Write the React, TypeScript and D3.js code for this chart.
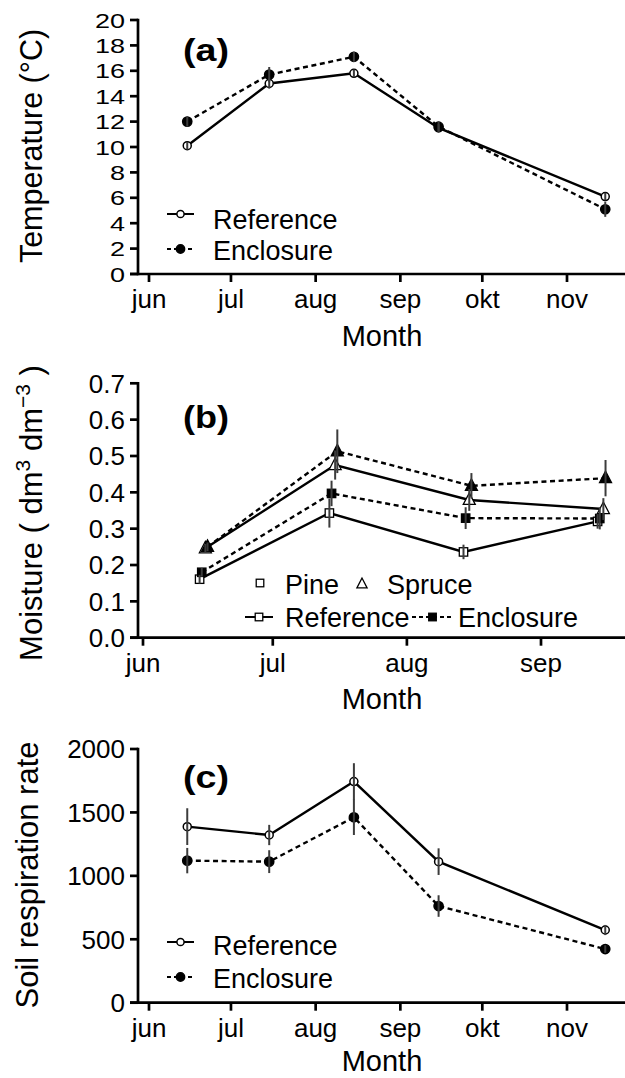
import React from 'react';
import * as d3 from 'd3';

// ---------- data ----------
const monthsAC = ['jun', 'jul', 'aug', 'sep', 'okt', 'nov'];
const monthsB = ['jun', 'jul', 'aug', 'sep'];
const datesAC = ['2000-06-15', '2000-07-15', '2000-08-15', '2000-09-15', '2000-11-15'];
const datesB = ['2000-06-15', '2000-07-15', '2000-08-15', '2000-09-15'];

const tempTicks = [0, 2, 4, 6, 8, 10, 12, 14, 16, 18, 20];
const tempReference = [10.1, 15.0, 15.8, 11.5, 6.1];
const tempReferenceErr = [0.3, 0.4, 0.3, 0.3, 0.3];
const tempEnclosure = [12.0, 15.7, 17.1, 11.6, 5.1];
const tempEnclosureErr = [0.4, 0.6, 0.4, 0.4, 0.6];

const moistTicks = [0, 0.1, 0.2, 0.3, 0.4, 0.5, 0.6, 0.7];
const moistPineRef = [0.161, 0.343, 0.236, 0.32];
const moistPineRefErr = [0.012, 0.04, 0.02, 0.02];
const moistPineEnc = [0.18, 0.397, 0.329, 0.328];
const moistPineEncErr = [0.012, 0.035, 0.03, 0.03];
const moistSpruceRef = [0.246, 0.475, 0.379, 0.354];
const moistSpruceRefErr = [0.012, 0.04, 0.03, 0.03];
const moistSpruceEnc = [0.25, 0.513, 0.418, 0.439];
const moistSpruceEncErr = [0.012, 0.06, 0.035, 0.05];

const respTicks = [0, 500, 1000, 1500, 2000];
const respReference = [1388, 1322, 1743, 1112, 573];
const respReferenceErr = [145, 80, 145, 105, 40];
const respEnclosure = [1120, 1112, 1462, 762, 423];
const respEnclosureErr = [100, 90, 140, 85, 30];

// ---------- styling ----------
const FONT = '"Liberation Sans", Arial, Helvetica, sans-serif';
const AXW = 2.7;
const LW = 2.4;
const DASH = '5,3.6';
const ERR = '#3c3c3c';
const parse = d3.timeParse('%Y-%m-%d');

type Shape = 'circle' | 'square' | 'triangle';

function Marker({ x, y, shape, filled, s = 1 }: { x: number; y: number; shape: Shape; filled: boolean; s?: number }) {
  const fill = filled ? '#000' : '#fff';
  if (shape === 'circle') {
    return <circle cx={x} cy={y} r={filled ? 4.6 * s : 4 * s} fill={fill} stroke="#000" strokeWidth={1.5} />;
  }
  if (shape === 'square') {
    const h = 4.2 * s;
    return <rect x={x - h} y={y - h} width={2 * h} height={2 * h} fill={fill} stroke="#000" strokeWidth={1.3} />;
  }
  const p = d3.path();
  p.moveTo(x, y - 7 * s);
  p.lineTo(x - 6 * s, y + 4.5 * s);
  p.lineTo(x + 6 * s, y + 4.5 * s);
  p.closePath();
  return <path d={p.toString()} fill={fill} stroke="#000" strokeWidth={1.3} />;
}

type Series = {
  values: number[];
  errs: number[];
  dashed: boolean;
  shape: Shape;
  filled: boolean;
  dodge: number; // days
};

function Panel({
  label, labelY, yTop, yBase, yDomainMax, yTicks, tickFmt, yTickScale, tickFs,
  x0, x1, months, dates, series, yTitle, yTitleX, yTitleCenter, yTitleFs, monthY,
}: any) {
  const d0 = parse('2000-06-01')!;
  const d1 = d3.timeMonth.offset(d0, months.length - 1);
  const x = d3.scaleTime().domain([d0, d1]).range([x0, x1]);
  const y = d3.scaleLinear().domain([0, yDomainMax]).range([yBase, yTop]);
  const tickDates = d3.timeMonth.range(d0, d3.timeMonth.offset(d0, months.length));
  const ds = dates.map((s: string) => parse(s)!);
  const xs = (i: number, dodge: number) => x(d3.timeHour.offset(ds[i], Math.round(dodge * 24)));

  return (
    <g>
      {/* y axis */}
      <line x1={138} x2={138} y1={yTop - AXW / 2} y2={yBase + AXW / 2} stroke="#000" strokeWidth={AXW} />
      {yTicks.map((t: number) => (
        <g key={t}>
          <line x1={130} x2={138} y1={y(t)} y2={y(t)} stroke="#000" strokeWidth={AXW} />
          <text
            transform={`translate(125,${y(t)}) scale(1,${yTickScale})`}
            y={tickFs * 0.36}
            textAnchor="end"
            fontSize={tickFs}
            fontFamily={FONT}
          >
            {tickFmt(t)}
          </text>
        </g>
      ))}
      {/* x axis */}
      <line x1={130} x2={625} y1={yBase} y2={yBase} stroke="#000" strokeWidth={AXW} />
      {tickDates.map((d: Date, i: number) => (
        <g key={i}>
          <line x1={x(d)} x2={x(d)} y1={yBase} y2={yBase + 8} stroke="#000" strokeWidth={AXW} />
          <text x={x(d)} y={yBase + 34} textAnchor="middle" fontSize={26} fontFamily={FONT}>
            {months[i]}
          </text>
        </g>
      ))}
      <text x={382} y={monthY} textAnchor="middle" fontSize={29} fontFamily={FONT}>Month</text>
      <text
        transform={`translate(${yTitleX},${yTitleCenter}) rotate(-90)`}
        textAnchor="middle"
        fontSize={yTitleFs}
        fontFamily={FONT}
      >
        {yTitle}
      </text>
      <text x={183} y={labelY} fontSize={31} fontWeight="bold" fontFamily={FONT}
        textLength={46} lengthAdjust="spacingAndGlyphs">{label}</text>

      {/* lines */}
      {series.map((s: Series, k: number) => {
        const line = d3.line<number>().x((_, i) => xs(i, s.dodge)).y((v) => y(v));
        return (
          <path key={k} d={line(s.values)!} fill="none" stroke="#000" strokeWidth={LW}
            strokeDasharray={s.dashed ? DASH : undefined} />
        );
      })}
      {/* markers */}
      {series.map((s: Series, k: number) =>
        s.values.map((v, i) => (
          <Marker key={`${k}-${i}`} x={xs(i, s.dodge)} y={y(v)} shape={s.shape} filled={s.filled} />
        ))
      )}
      {/* error bars */}
      {series.map((s: Series, k: number) =>
        s.values.map((v, i) => (
          <line key={`e${k}-${i}`} x1={xs(i, s.dodge)} x2={xs(i, s.dodge)}
            y1={y(v - s.errs[i])} y2={y(v + s.errs[i])} stroke={ERR} strokeWidth={2} />
        ))
      )}
    </g>
  );
}

const LFS = 27;

function LegendRow({ x, y, ty, dashed, shape, filled, text, x2, tx }: any) {
  return (
    <g>
      <line x1={x} x2={x2} y1={y} y2={y} stroke="#000" strokeWidth={2} strokeDasharray={dashed ? '4,3' : undefined} />
      <Marker x={(x + x2) / 2} y={y} shape={shape} filled={filled} s={0.9} />
      <text x={tx} y={ty} fontSize={LFS} fontFamily={FONT}>{text}</text>
    </g>
  );
}

export default function App() {
  const fmt0 = (t: number) => d3.format('d')(t);
  const fmt1 = (t: number) => d3.format('.1f')(t);
  return (
    <svg width={625} height={1078} style={{ position: 'absolute', left: 0, top: 0, background: '#fff' }}
      xmlns="http://www.w3.org/2000/svg">
      <rect width={625} height={1078} fill="#fff" />
      {/* (a) */}
      <Panel
        label="(a)" labelY={61} yTop={20} yBase={274} yDomainMax={20} yTicks={tempTicks} tickFmt={fmt0}
        yTickScale={0.78} tickFs={27} x0={149} x1={567} months={monthsAC} dates={datesAC}
        yTitle="Temperature (°C)" yTitleX={42} yTitleCenter={146} yTitleFs={30.5} monthY={346}
        series={[
          { values: tempReference, errs: tempReferenceErr, dashed: false, shape: 'circle', filled: false, dodge: 0 },
          { values: tempEnclosure, errs: tempEnclosureErr, dashed: true, shape: 'circle', filled: true, dodge: 0 },
        ]}
      />
      <LegendRow x={167} x2={194} y={214} ty={229} tx={213} dashed={false} shape="circle" filled={false} text="Reference" />
      <LegendRow x={167} x2={194} y={249} ty={260} tx={213} dashed={true} shape="circle" filled={true} text="Enclosure" />

      {/* (b) */}
      <Panel
        label="(b)" labelY={428} yTop={383.3} yBase={637.7} yDomainMax={0.7} yTicks={moistTicks} tickFmt={fmt1}
        yTickScale={1} tickFs={26} x0={143} x1={541} months={monthsB} dates={datesB}
        yTitle={<>
          <tspan>Moisture ( dm</tspan>
          <tspan dy={-12} fontSize={21}>3</tspan>
          <tspan dy={12}> dm</tspan>
          <tspan dy={-12} fontSize={21}>−3</tspan>
          <tspan dy={12}> )</tspan>
        </>}
        yTitleX={42} yTitleCenter={513} yTitleFs={31} monthY={709}
        series={[
          { values: moistPineRef, errs: moistPineRefErr, dashed: false, shape: 'square', filled: false, dodge: -0.9 },
          { values: moistPineEnc, errs: moistPineEncErr, dashed: true, shape: 'square', filled: true, dodge: -0.4 },
          { values: moistSpruceRef, errs: moistSpruceRefErr, dashed: false, shape: 'triangle', filled: false, dodge: 0.4 },
          { values: moistSpruceEnc, errs: moistSpruceEncErr, dashed: true, shape: 'triangle', filled: true, dodge: 0.9 },
        ]}
      />
      <Marker x={260} y={583} shape="square" filled={false} s={0.9} />
      <text x={285} y={594} fontSize={LFS} fontFamily={FONT}>Pine</text>
      <Marker x={362} y={584} shape="triangle" filled={false} s={0.85} />
      <text x={387} y={594} fontSize={LFS} fontFamily={FONT}>Spruce</text>
      <LegendRow x={245} x2={273} y={617} ty={627} tx={285} dashed={false} shape="square" filled={false} text="Reference" />
      <LegendRow x={412} x2={453} y={617} ty={627} tx={458} dashed={true} shape="square" filled={true} text="Enclosure" />

      {/* (c) */}
      <Panel
        label="(c)" labelY={788} yTop={749} yBase={1002.7} yDomainMax={2000} yTicks={respTicks} tickFmt={fmt0}
        yTickScale={1} tickFs={26} x0={149} x1={567} months={monthsAC} dates={datesAC}
        yTitle="Soil respiration rate" yTitleX={38} yTitleCenter={875} yTitleFs={31} monthY={1071}
        series={[
          { values: respReference, errs: respReferenceErr, dashed: false, shape: 'circle', filled: false, dodge: 0 },
          { values: respEnclosure, errs: respEnclosureErr, dashed: true, shape: 'circle', filled: true, dodge: 0 },
        ]}
      />
      <LegendRow x={167} x2={194} y={942} ty={955} tx={213} dashed={false} shape="circle" filled={false} text="Reference" />
      <LegendRow x={167} x2={194} y={977} ty={988} tx={213} dashed={true} shape="circle" filled={true} text="Enclosure" />
    </svg>
  );
}
